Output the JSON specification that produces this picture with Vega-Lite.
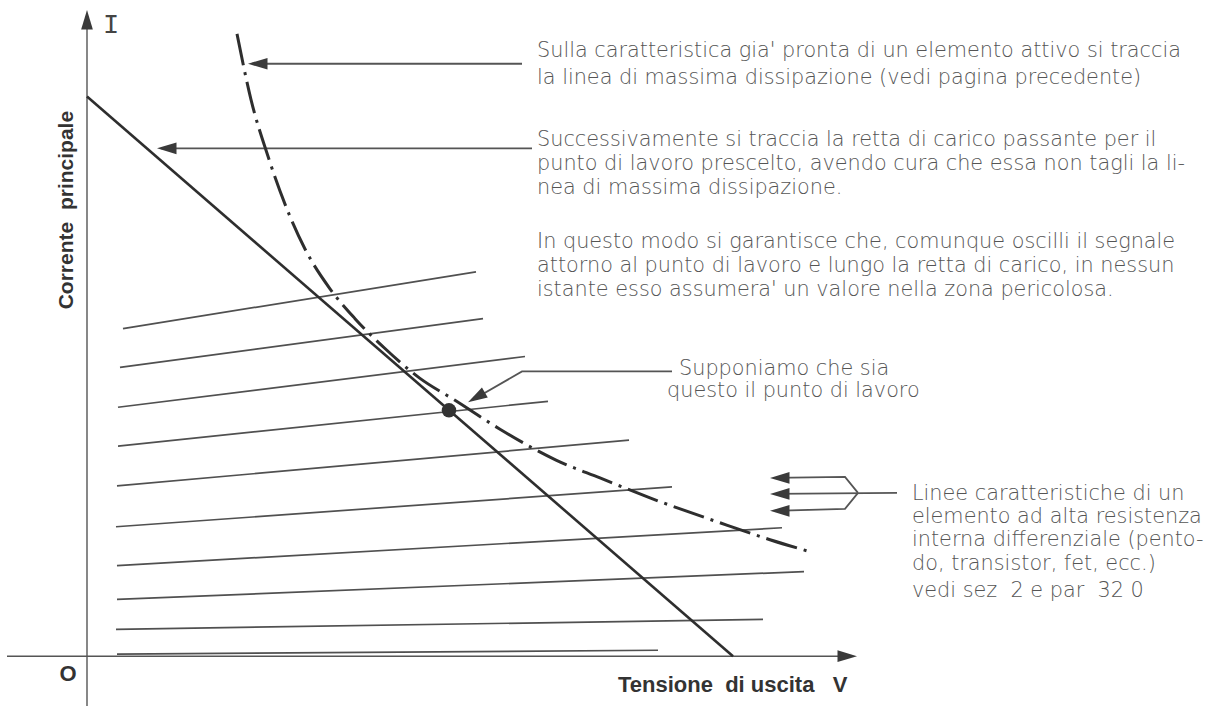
{
  "$schema": "https://vega.github.io/schema/vega-lite/v6.json",
  "width": 1208,
  "height": 709,
  "autosize": {"type": "fit", "contains": "padding"},
  "padding": 0,
  "background": "white",
  "config": {"view": {"stroke": null}},
  "datasets": {
    "axes": [
      {"id": "yaxis", "seq": 1, "V": 0, "I": -50},
      {"id": "yaxis", "seq": 2, "V": 0, "I": 640},
      {"id": "xaxis", "seq": 1, "V": -80, "I": 0},
      {"id": "xaxis", "seq": 2, "V": 762, "I": 0}
    ],
    "heads": [
      {"V": 0, "I": 649, "dir": "up"},
      {"V": 770, "I": 0, "dir": "right"},
      {"V": 161, "I": 595, "dir": "left"},
      {"V": 70, "I": 510, "dir": "left"},
      {"V": 381, "I": 255, "dir": "downleft"},
      {"V": 683, "I": 179, "dir": "left"},
      {"V": 683, "I": 163, "dir": "left"},
      {"V": 683, "I": 146, "dir": "left"}
    ],
    "pointers": [
      {"id": "p1", "seq": 1, "V": 165, "I": 595},
      {"id": "p1", "seq": 2, "V": 435, "I": 595},
      {"id": "p2", "seq": 1, "V": 74, "I": 510},
      {"id": "p2", "seq": 2, "V": 445, "I": 510},
      {"id": "p3", "seq": 1, "V": 385, "I": 257},
      {"id": "p3", "seq": 2, "V": 435, "I": 286},
      {"id": "p3", "seq": 3, "V": 585, "I": 286},
      {"id": "g1", "seq": 1, "V": 687, "I": 179},
      {"id": "g1", "seq": 2, "V": 758, "I": 180},
      {"id": "g1", "seq": 3, "V": 771, "I": 164},
      {"id": "g2", "seq": 1, "V": 687, "I": 163},
      {"id": "g2", "seq": 2, "V": 810, "I": 164},
      {"id": "g3", "seq": 1, "V": 687, "I": 146},
      {"id": "g3", "seq": 2, "V": 758, "I": 148},
      {"id": "g3", "seq": 3, "V": 771, "I": 164}
    ],
    "charlines": [
      {"id": 1, "seq": 1, "V": 36, "I": 329}, {"id": 1, "seq": 2, "V": 389, "I": 386},
      {"id": 2, "seq": 1, "V": 33, "I": 290}, {"id": 2, "seq": 2, "V": 396, "I": 339},
      {"id": 3, "seq": 1, "V": 31, "I": 250}, {"id": 3, "seq": 2, "V": 438, "I": 301},
      {"id": 4, "seq": 1, "V": 31, "I": 211}, {"id": 4, "seq": 2, "V": 461, "I": 256},
      {"id": 5, "seq": 1, "V": 30, "I": 171}, {"id": 5, "seq": 2, "V": 542, "I": 217},
      {"id": 6, "seq": 1, "V": 29, "I": 130}, {"id": 6, "seq": 2, "V": 585, "I": 170},
      {"id": 7, "seq": 1, "V": 30, "I": 91}, {"id": 7, "seq": 2, "V": 695, "I": 129},
      {"id": 8, "seq": 1, "V": 30, "I": 57}, {"id": 8, "seq": 2, "V": 717, "I": 85},
      {"id": 9, "seq": 1, "V": 29, "I": 27}, {"id": 9, "seq": 2, "V": 676, "I": 37},
      {"id": 10, "seq": 1, "V": 30, "I": 2}, {"id": 10, "seq": 2, "V": 571, "I": 6}
    ],
    "loadline": [
      {"seq": 1, "V": 0, "I": 562},
      {"seq": 2, "V": 646, "I": 0}
    ],
    "curve": [
      {"V": 150, "I": 625}, {"V": 164, "I": 559}, {"V": 181, "I": 502},
      {"V": 198, "I": 454}, {"V": 218, "I": 409}, {"V": 243, "I": 369},
      {"V": 268, "I": 339}, {"V": 298, "I": 309}, {"V": 333, "I": 279},
      {"V": 368, "I": 257}, {"V": 413, "I": 228}, {"V": 469, "I": 197},
      {"V": 513, "I": 179}, {"V": 563, "I": 159}, {"V": 633, "I": 134},
      {"V": 683, "I": 117}, {"V": 726, "I": 104}
    ],
    "dot": [{"V": 362, "I": 247}],
    "notes": [
      {"V": 450, "I": 602, "text": "Sulla caratteristica gia' pronta di un elemento attivo si traccia"},
      {"V": 450, "I": 575, "text": "la linea di massima dissipazione (vedi pagina precedente)"},
      {"V": 450, "I": 512, "text": "Successivamente si traccia la retta di carico passante per il"},
      {"V": 450, "I": 488, "text": "punto di lavoro prescelto, avendo cura che essa non tagli la li-"},
      {"V": 450, "I": 464, "text": "nea di massima dissipazione."},
      {"V": 450, "I": 410, "text": "In questo modo si garantisce che, comunque oscilli il segnale"},
      {"V": 450, "I": 386, "text": "attorno al punto di lavoro e lungo la retta di carico, in nessun"},
      {"V": 450, "I": 362, "text": "istante esso assumera' un valore nella zona pericolosa."},
      {"V": 592, "I": 282, "text": "Supponiamo che sia"},
      {"V": 580, "I": 260, "text": "questo il punto di lavoro"},
      {"V": 825, "I": 157, "text": "Linee caratteristiche di un"},
      {"V": 825, "I": 134, "text": "elemento ad alta resistenza"},
      {"V": 825, "I": 111, "text": "interna differenziale (pento-"},
      {"V": 825, "I": 87, "text": "do, transistor, fet, ecc.)"},
      {"V": 825, "I": 59, "text": "vedi sez\u00a0 2 e par\u00a0 32 0"}
    ],
    "xlabel": [{"V": 531, "I": -36, "text": "Tensione\u00a0\u00a0di uscita\u00a0\u00a0 V"}],
    "origin": [{"V": -19, "I": -25, "text": "O"}],
    "ylabel": [{"V": -14, "I": 448, "text": "Corrente\u00a0\u00a0principale"}],
    "ilabel": [{"V": 24, "I": 626, "text": "I"}]
  },
  "encoding": {
    "x": {"field": "V", "type": "quantitative", "scale": {"domain": [-87, 1121], "nice": false, "zero": false}, "axis": null},
    "y": {"field": "I", "type": "quantitative", "scale": {"domain": [-50, 659], "nice": false, "zero": false}, "axis": null}
  },
  "layer": [
    {
      "data": {"name": "charlines"},
      "mark": {"type": "line", "stroke": "#505050", "strokeWidth": 1.7},
      "encoding": {"detail": {"field": "id", "type": "nominal"}, "order": {"field": "seq", "type": "quantitative"}}
    },
    {
      "data": {"name": "axes"},
      "mark": {"type": "line", "stroke": "#555", "strokeWidth": 1.4},
      "encoding": {"detail": {"field": "id", "type": "nominal"}, "order": {"field": "seq", "type": "quantitative"}}
    },
    {
      "data": {"name": "pointers"},
      "mark": {"type": "line", "stroke": "#555", "strokeWidth": 1.8},
      "encoding": {"detail": {"field": "id", "type": "nominal"}, "order": {"field": "seq", "type": "quantitative"}}
    },
    {
      "data": {"name": "loadline"},
      "mark": {"type": "line", "stroke": "#2e2e2e", "strokeWidth": 2.6},
      "encoding": {"order": {"field": "seq", "type": "quantitative"}}
    },
    {
      "data": {"name": "curve"},
      "mark": {"type": "line", "stroke": "#2e2e2e", "strokeWidth": 3, "strokeDash": [32, 7, 3, 7], "interpolate": "monotone"},
      "encoding": {}
    },
    {
      "data": {"name": "heads"},
      "transform": [{"filter": "datum.dir === 'right'"}],
      "mark": {"type": "point", "shape": "M0,0L-2,-0.6L-2,0.6Z", "filled": true, "color": "#3a3a3a", "opacity": 1, "size": 380, "angle": 0}
    },
    {
      "data": {"name": "heads"},
      "transform": [{"filter": "datum.dir === 'left'"}],
      "mark": {"type": "point", "shape": "M0,0L2,-0.6L2,0.6Z", "filled": true, "color": "#3a3a3a", "opacity": 1, "size": 380, "angle": 0}
    },
    {
      "data": {"name": "heads"},
      "transform": [{"filter": "datum.dir === 'up'"}],
      "mark": {"type": "point", "shape": "M0,0L-0.6,2L0.6,2Z", "filled": true, "color": "#3a3a3a", "opacity": 1, "size": 380, "angle": 0}
    },
    {
      "data": {"name": "heads"},
      "transform": [{"filter": "datum.dir === 'downleft'"}],
      "mark": {"type": "point", "shape": "M0,0L1.43,-1.52L2.03,-0.48Z", "filled": true, "color": "#3a3a3a", "opacity": 1, "size": 380, "angle": 0}
    },
    {
      "data": {"name": "dot"},
      "mark": {"type": "point", "shape": "circle", "filled": true, "color": "#333", "opacity": 1, "size": 210}
    },
    {
      "data": {"name": "notes"},
      "mark": {"type": "text", "align": "left", "baseline": "alphabetic", "font": "DejaVu Sans", "fontWeight": 300, "fontSize": 20.8, "color": "#555"},
      "encoding": {"text": {"field": "text"}}
    },
    {
      "data": {"name": "xlabel"},
      "mark": {"type": "text", "align": "left", "baseline": "alphabetic", "font": "Liberation Sans", "fontWeight": "bold", "fontSize": 22, "color": "#333"},
      "encoding": {"text": {"field": "text"}}
    },
    {
      "data": {"name": "origin"},
      "mark": {"type": "text", "align": "center", "baseline": "alphabetic", "font": "Liberation Sans", "fontWeight": "bold", "fontSize": 22, "color": "#333"},
      "encoding": {"text": {"field": "text"}}
    },
    {
      "data": {"name": "ylabel"},
      "mark": {"type": "text", "angle": 270, "align": "center", "baseline": "alphabetic", "font": "Liberation Sans", "fontWeight": "bold", "fontSize": 21, "color": "#333"},
      "encoding": {"text": {"field": "text"}}
    },
    {
      "data": {"name": "ilabel"},
      "mark": {"type": "text", "align": "center", "baseline": "alphabetic", "font": "Liberation Mono", "fontWeight": "normal", "fontSize": 27, "color": "#444"},
      "encoding": {"text": {"field": "text"}}
    }
  ]
}
